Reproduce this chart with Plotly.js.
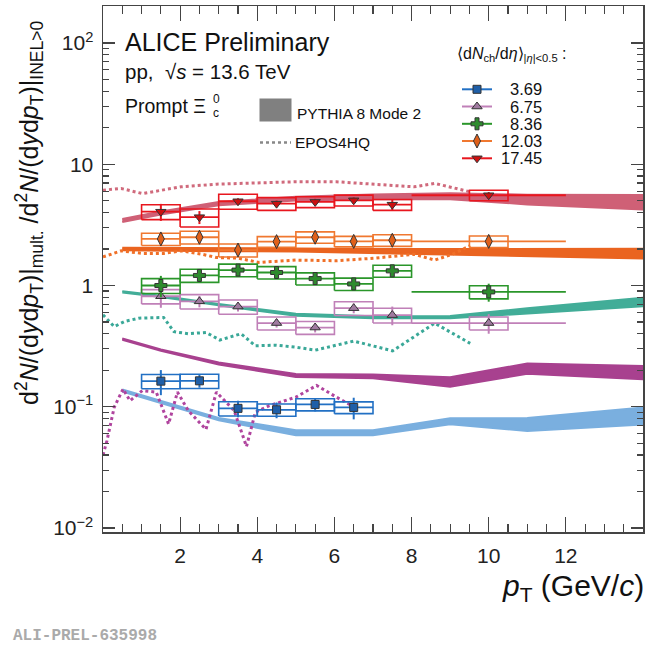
<!DOCTYPE html>
<html><head><meta charset="utf-8">
<script src="https://cdn.plot.ly/plotly-3.0.1.min.js"></script>
<style>html,body{margin:0;padding:0;background:#fff;}#plot{width:650px;height:647px;}</style>
</head><body><div id="plot"></div>
<script>
// ---------------- data ----------------
const ptCenters = [1.5, 2.5, 3.5, 4.5, 5.5, 6.5, 7.5, 10];
const binLow    = [1, 2, 3, 4, 5, 6, 7, 8];
const binHigh   = [2, 3, 4, 5, 6, 7, 8, 12];
const multLabels = ['3.69', '6.75', '8.36', '12.03', '17.45'];

const y369    = [0.1626, 0.1636, 0.097, 0.0944, 0.1045, 0.0987];
const stat369 = [0.038, 0.020, 0.015, 0.014, 0.013, 0.020];
const sys369  = [0.022, 0.022, 0.013, 0.011, 0.012, 0.011];

const y675    = [0.815, 0.74, 0.67, 0.49, 0.45, 0.65, 0.57, 0.49];
const stat675 = [0.16, 0.08, 0.06, 0.04, 0.04, 0.06, 0.10, 0.09];
const sys675  = [0.11, 0.10, 0.09, 0.06, 0.055, 0.085, 0.08, 0.06];

const y836    = [1.0, 1.21, 1.34, 1.28, 1.14, 1.03, 1.32, 0.885];
const stat836 = [0.20, 0.15, 0.10, 0.10, 0.10, 0.10, 0.12, 0.15];
const sys836  = [0.14, 0.15, 0.16, 0.15, 0.13, 0.12, 0.15, 0.11];

const y1203    = [2.42, 2.50, 1.96, 2.30, 2.50, 2.31, 2.36, 2.31];
const stat1203 = [0.12, 0.15, 0.20, 0.15, 0.12, 0.15, 0.12, 0.15];
const sys1203  = [0.28, 0.30, 0.24, 0.23, 0.27, 0.23, 0.26, 0.25];

const y1745    = [4.06, 3.66, 4.95, 4.73, 4.89, 5.04, 4.64, 5.55];
const stat1745 = [0.65, 0.45, 0.30, 0.30, 0.30, 0.30, 0.50, 0.35];
const sys1745  = [0.57, 0.62, 0.70, 0.57, 0.50, 0.52, 0.48, 0.55];

// PYTHIA 8 Mode 2 (central value and relative uncertainty)
const pyX        = [0.5, 1.5, 3, 5, 7, 9, 11, 14];
const py369      = [0.136, 0.110, 0.079, 0.061, 0.061, 0.076, 0.0713, 0.084];
const py369rel   = [0.02, 0.02, 0.023, 0.047, 0.047, 0.059, 0.13, 0.175];
const py675      = [0.361, 0.293, 0.227, 0.181, 0.178, 0.160, 0.206, 0.191];
const py675rel   = [0.014, 0.014, 0.019, 0.028, 0.037, 0.094, 0.102, 0.135];
const py836      = [0.885, 0.815, 0.695, 0.573, 0.548, 0.548, 0.619, 0.731];
const py836rel   = [0.012, 0.012, 0.014, 0.019, 0.019, 0.023, 0.047, 0.084];
const py1203     = [2.00, 2.00, 1.97, 1.96, 1.93, 1.90, 1.87, 1.83];
const py1203rel  = [0.023, 0.023, 0.026, 0.03, 0.035, 0.052, 0.072, 0.096];
const py1745     = [3.44, 3.96, 4.73, 5.21, 5.38, 5.45, 5.11, 4.85];
const py1745rel  = [0.03, 0.03, 0.032, 0.035, 0.047, 0.059, 0.096, 0.148];

// EPOS4HQ
const eposAX = [0.0, 0.1, 0.29, 0.52, 0.7, 1.02, 1.38, 1.70, 1.93, 2.21, 2.67, 2.94, 3.4, 3.72, 3.95, 4.31, 5.0, 5.54, 6.05, 6.5];
const eposA  = [0.040, 0.052, 0.099, 0.140, 0.112, 0.136, 0.132, 0.072, 0.132, 0.093, 0.065, 0.132, 0.093, 0.047, 0.090, 0.102, 0.120, 0.150, 0.120, 0.100];
const eposBX = [0.0, 0.29, 0.56, 0.93, 1.57, 1.84, 2.21, 2.67, 3.03, 3.58, 3.95, 4.49, 5.0, 5.5, 6.5, 7.51, 8.6, 9.52];
const eposB  = [0.573, 0.458, 0.505, 0.538, 0.545, 0.416, 0.40, 0.41, 0.355, 0.40, 0.318, 0.322, 0.31, 0.293, 0.348, 0.289, 0.489, 0.333];
const eposCX = [0.0, 0.47, 1.02, 1.57, 2.02, 2.6, 2.94, 3.5, 4.04, 5.0, 6.05, 7.05, 8.06, 8.6, 9.06, 9.52];
const eposC  = [1.72, 1.93, 1.84, 1.84, 1.93, 1.80, 1.70, 1.68, 1.55, 1.62, 1.60, 1.68, 1.81, 1.62, 1.81, 2.13];
const eposDX = [0.0, 0.47, 1.02, 1.57, 2.02, 2.94, 4.04, 5.0, 6.05, 7.05, 8.06, 8.6, 9.52];
const eposD  = [6.11, 6.31, 5.73, 6.19, 6.51, 6.85, 7.03, 7.17, 7.17, 6.85, 6.51, 6.95, 5.92];

// ---------------- styles ----------------
const L = 103, R = 643, T = 6, B = 532;
const boxHalf = 0.5;
const series = [
  {y: y369,  stat: stat369,  sys: sys369,  line: '#2270c4', fill: '#1f5fa8', sym: 'square',        size: 8},
  {y: y675,  stat: stat675,  sys: sys675,  line: '#c080b8', fill: '#a07aa0', sym: 'triangle-up',   size: 9},
  {y: y836,  stat: stat836,  sys: sys836,  line: '#2a962a', fill: '#2e8b2e', sym: 'cross',         size: 10},
  {y: y1203, stat: stat1203, sys: sys1203, line: '#f07830', fill: '#e0601a', sym: 'diamond-tall',  size: 10},
  {y: y1745, stat: stat1745, sys: sys1745, line: '#e8161e', fill: '#cc1010', sym: 'triangle-down', size: 9}
];
const pythia = [
  {c: py369,  r: py369rel,  col: '#7aafdf'},
  {c: py675,  r: py675rel,  col: '#a8418f'},
  {c: py836,  r: py836rel,  col: '#42ad98'},
  {c: py1203, r: py1203rel, col: '#ea6420'},
  {c: py1745, r: py1745rel, col: '#cf6076'}
];
const epos = [
  {x: eposAX, y: eposA, col: '#b0449e'},
  {x: eposBX, y: eposB, col: '#3aa898'},
  {x: eposCX, y: eposC, col: '#f07028'},
  {x: eposDX, y: eposD, col: '#d06a7c'}
];

const traces = [];
pythia.forEach(p => {
  const up = p.c.map((v, i) => v * (1 + p.r[i]));
  const lo = p.c.map((v, i) => v / (1 + p.r[i]));
  traces.push({
    x: pyX.concat(pyX.slice().reverse()),
    y: up.concat(lo.slice().reverse()),
    mode: 'lines', fill: 'toself', fillcolor: p.col,
    line: {color: p.col, width: 2}, hoverinfo: 'skip', showlegend: false
  });
});
epos.forEach(e => {
  traces.push({x: e.x, y: e.y, mode: 'lines',
    line: {color: e.col, width: 3, dash: '3px,3px'}, hoverinfo: 'skip', showlegend: false});
});
series.forEach(s => {
  const bx = [], by = [];
  s.y.forEach((v, i) => {
    const xc = ptCenters[i];
    bx.push(xc - boxHalf, xc + boxHalf, xc + boxHalf, xc - boxHalf, xc - boxHalf, null);
    by.push(v - s.sys[i], v - s.sys[i], v + s.sys[i], v + s.sys[i], v - s.sys[i], null);
  });
  traces.push({x: bx, y: by, mode: 'lines', line: {color: s.line, width: 1.6},
    hoverinfo: 'skip', showlegend: false, connectgaps: false});
});
series.forEach(s => {
  const n = s.y.length;
  const xs = ptCenters.slice(0, n);
  traces.push({
    x: xs, y: s.y, mode: 'markers',
    marker: {symbol: s.sym, size: s.size, color: s.fill, line: {color: '#333', width: 1}},
    error_y: {type: 'data', array: s.stat, color: s.line, thickness: 2, width: 0},
    error_x: {type: 'data', symmetric: false,
      array: xs.map((x, i) => binHigh[i] - x), arrayminus: xs.map((x, i) => x - binLow[i]),
      color: s.line, thickness: 1.8, width: 0},
    showlegend: false, hoverinfo: 'skip'
  });
});

// legend (pixel overlay axes)
const legY = [89.3, 106.5, 123.8, 141, 158.3];
series.forEach((s, i) => {
  traces.push({x: [462, 492], y: [legY[i], legY[i]], xaxis: 'x2', yaxis: 'y2', mode: 'lines',
    line: {color: s.line, width: 2}, showlegend: false, hoverinfo: 'skip'});
  traces.push({x: [477], y: [legY[i]], xaxis: 'x2', yaxis: 'y2', mode: 'markers',
    marker: {symbol: s.sym, size: s.size, color: s.fill, line: {color: '#333', width: 1}},
    showlegend: false, hoverinfo: 'skip'});
});
traces.push({x: [260, 291], y: [142.5, 142.5], xaxis: 'x2', yaxis: 'y2', mode: 'lines',
  line: {color: '#888', width: 2.5, dash: '3px,3px'}, showlegend: false, hoverinfo: 'skip'});

const ax = px => (px - L) / (R - L);
const ay = py => (B - py) / (B - T);
const F = 'Liberation Sans, Arial, Helvetica, sans-serif';
function ann(text, px, py, size, xanchor, extra) {
  return Object.assign({text: text, xref: 'paper', yref: 'paper', x: ax(px), y: ay(py),
    xanchor: xanchor || 'left', yanchor: 'middle', showarrow: false, borderpad: 0,
    font: {family: F, size: size, color: '#111'}}, extra || {});
}
const annotations = [
  ann('ALICE Preliminary', 124, 42.5, 25),
  ann('pp,  √<i>s</i> = 13.6 TeV', 124, 71, 20.5),
  ann('Prompt Ξ', 124, 106, 19.5),
  ann('0', 212, 99, 12),
  ann('c', 212, 113, 12),
  ann('PYTHIA 8 Mode 2', 296, 113, 15.5),
  ann('EPOS4HQ', 294, 142.5, 15.5),
  ann('⟨d<i>N</i><sub>ch</sub>/d<i>η</i>⟩<sub>|<i>η</i>|&lt;0.5</sub> :', 456, 54, 16),
  ann('d<sup>2</sup><i>N</i>/(d<i>y</i>d<i>p</i><sub>T</sub>)|<sub>mult.</sub> /d<sup>2</sup><i>N</i>/(d<i>y</i>d<i>p</i><sub>T</sub>)|<sub>INEL&gt;0</sub>',
      29, 213, 25, 'center', {textangle: -90}),
  ann('<i>p</i><sub>T</sub> (GeV/<i>c</i>)', 645, 587, 30, 'right'),
  ann('ALI-PREL-635998', 12, 636, 16, 'left', {font: {family: 'Liberation Mono, Courier New, monospace', size: 16, color: '#aaa', weight: 'bold'}})
];
multLabels.forEach((t, i) => annotations.push(ann(t, 543, legY[i], 16.5, 'right')));

const shapes = [
  {type: 'rect', xref: 'x2', yref: 'y2', x0: 259.5, x1: 291.5, y0: 98.5, y1: 121.5,
   fillcolor: '#808080', line: {width: 0}}
];

const yMinor = [];
for (let k = -3; k <= 2; k++) for (let m = 2; m <= 9; m++) yMinor.push(m * Math.pow(10, k));

const tickFont = {family: F, size: 21, color: '#222'};
const layout = {
  width: 650, height: 647,
  margin: {l: L, r: 650 - R, t: T, b: 647 - B, pad: 0},
  paper_bgcolor: '#fff', plot_bgcolor: '#fff',
  showlegend: false,
  xaxis: {range: [0, 14], tickvals: [2, 4, 6, 8, 10, 12], ticktext: ['2', '4', '6', '8', '10', '12'],
    ticks: 'inside', ticklen: 15, tickwidth: 1.2, tickcolor: '#444',
    minor: {dtick: 0.5, tick0: 0, ticks: 'inside', ticklen: 8, tickwidth: 1.2, tickcolor: '#444'},
    showline: true, linecolor: '#444', linewidth: 1.5, mirror: 'ticks', showgrid: false, zeroline: false,
    tickfont: tickFont, ticklabelstandoff: 4},
  yaxis: {type: 'log', range: [-2.033, 2.305], tickvals: [0.01, 0.1, 1, 10, 100],
    ticktext: ['10<sup>−2</sup>', '10<sup>−1</sup>', '1', '10', '10<sup>2</sup>'],
    ticks: 'inside', ticklen: 12, tickwidth: 1.2, tickcolor: '#444',
    minor: {tickvals: yMinor, ticks: 'inside', ticklen: 6, tickwidth: 1.2, tickcolor: '#444'},
    showline: true, linecolor: '#444', linewidth: 1.5, mirror: 'ticks', showgrid: false, zeroline: false,
    tickfont: tickFont, ticklabelstandoff: 4},
  xaxis2: {overlaying: 'x', range: [L, R], visible: false, fixedrange: true},
  yaxis2: {overlaying: 'y', range: [B, T], visible: false, fixedrange: true},
  annotations: annotations,
  shapes: shapes
};
Plotly.newPlot('plot', traces, layout, {staticPlot: true, displayModeBar: false});
</script></body></html>
